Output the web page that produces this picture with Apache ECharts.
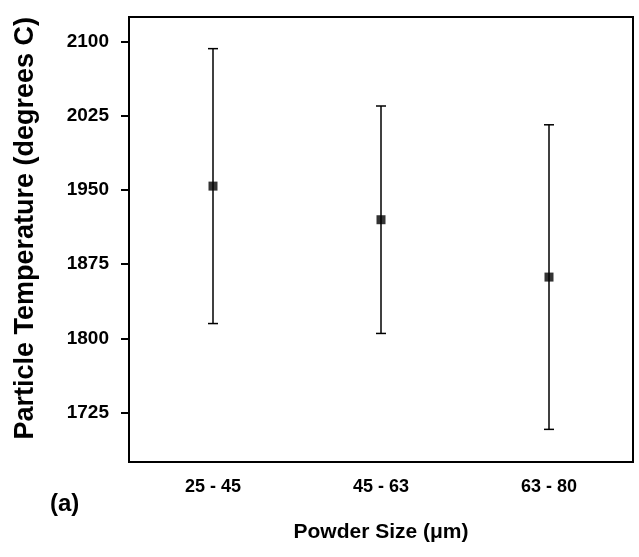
<!DOCTYPE html>
<html>
<head>
<meta charset="utf-8">
<script src="https://cdn.jsdelivr.net/npm/echarts@6/dist/echarts.min.js"></script>
<style>
  html, body { margin: 0; padding: 0; background: #fff; }
  #chart { width: 639px; height: 557px; }
</style>
</head>
<body>
<div id="chart"></div>
<script>
// powder size classes and measured particle temperature
var sizes = ['25 - 45', '45 - 63', '63 - 80'];
var meanTemp = [1954, 1920, 1862];
var upperTemp = [2093, 2035, 2016];
var lowerTemp = [1815, 1805, 1708];
var yTicks = [1725, 1800, 1875, 1950, 2025, 2100];

var chart = echarts.init(document.getElementById('chart'));
var font = '"Liberation Sans", Arial, sans-serif';

var errData = sizes.map(function (s, i) {
  return [i, lowerTemp[i], upperTemp[i]];
});

var option = {
  animation: false,
  backgroundColor: '#fff',
  grid: {
    left: 129, top: 17, width: 504, height: 445,
    show: true, borderColor: '#000', borderWidth: 2, backgroundColor: 'transparent'
  },
  xAxis: {
    type: 'category',
    data: sizes,
    boundaryGap: true,
    name: 'Powder Size (μm)',
    nameLocation: 'middle',
    nameGap: 60,
    nameTextStyle: {
      fontFamily: font, fontWeight: 'bold', fontSize: 21, color: '#000'
    },
    axisLine: { lineStyle: { color: '#000', width: 2 } },
    axisTick: { inside: true, length: 8, alignWithLabel: true, lineStyle: { color: '#000', width: 2 } },
    axisLabel: {
      margin: 16, fontFamily: font, fontWeight: 'bold', fontSize: 18, color: '#000'
    },
    splitLine: { show: false }
  },
  yAxis: {
    type: 'value',
    min: 1675,
    max: 2125,
    name: '   Particle Temperature (degrees C)',
    nameLocation: 'middle',
    nameGap: 90,
    nameTextStyle: {
      fontFamily: font, fontWeight: 'bold', fontSize: 27, color: '#000'
    },
    axisLine: { show: true, lineStyle: { color: '#000', width: 2 } },
    axisTick: { show: true, length: 8, customValues: yTicks, lineStyle: { color: '#000', width: 2 } },
    axisLabel: {
      margin: 20, customValues: yTicks,
      formatter: function (v) { return String(v); },
      fontFamily: font, fontWeight: 'bold', fontSize: 19, color: '#000'
    },
    splitLine: { show: false }
  },
  graphic: [
    {
      type: 'text', left: 50, top: 492,
      style: { text: '(a)', font: 'bold 24px ' + font, fill: '#000' }
    }
  ],
  series: [
    {
      type: 'custom',
      data: errData,
      z: 2,
      renderItem: function (params, api) {
        var lo = api.coord([api.value(0), api.value(1)]);
        var hi = api.coord([api.value(0), api.value(2)]);
        var w = 5;
        var st = { stroke: '#000', lineWidth: 1.5 };
        return {
          type: 'group',
          children: [
            { type: 'line', shape: { x1: hi[0], y1: hi[1], x2: lo[0], y2: lo[1] }, style: st },
            { type: 'line', shape: { x1: hi[0] - w, y1: hi[1], x2: hi[0] + w, y2: hi[1] }, style: st },
            { type: 'line', shape: { x1: lo[0] - w, y1: lo[1], x2: lo[0] + w, y2: lo[1] }, style: st }
          ]
        };
      }
    },
    {
      type: 'scatter',
      data: meanTemp,
      symbol: 'rect',
      symbolSize: 9,
      z: 3,
      itemStyle: { color: '#000' }
    }
  ]
};
chart.setOption(option);
</script>
</body>
</html>
